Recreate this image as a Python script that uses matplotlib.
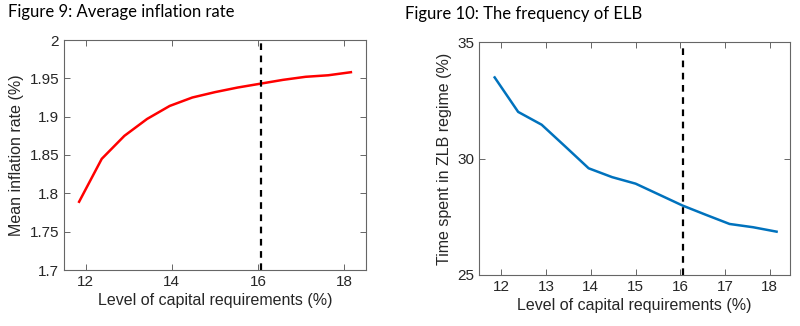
import matplotlib
matplotlib.use("Agg")
import matplotlib.pyplot as plt

capital = [11.85, 12.375, 12.9, 13.425, 13.95, 14.475, 15.0, 15.525, 16.05, 16.575, 17.1, 17.625, 18.15]
inflation = [1.789, 1.845, 1.875, 1.897, 1.914, 1.925, 1.932, 1.938, 1.943, 1.948, 1.952, 1.954, 1.958]
zlb_time = [33.48, 32.0, 31.45, 30.52, 29.58, 29.2, 28.92, 28.45, 27.98, 27.58, 27.19, 27.05, 26.86]
current_req = 16.07

left_xticks = [12, 14, 16, 18]
left_yticks = [1.7, 1.75, 1.8, 1.85, 1.9, 1.95, 2.0]
left_yticklabels = ["1.7", "1.75", "1.8", "1.85", "1.9", "1.95", "2"]
right_xticks = [12, 13, 14, 15, 16, 17, 18]
right_yticks = [25, 30, 35]

W, H = 800, 326
fig = plt.figure(figsize=(W / 100, H / 100), dpi=100)

def ax_rect(x0, y0, x1, y1):
    return [x0 / W, 1 - y1 / H, (x1 - x0) / W, (y1 - y0) / H]

ax1 = fig.add_axes(ax_rect(64, 40, 366, 270))
ax2 = fig.add_axes(ax_rect(479, 42, 790, 275))

tick_col = "#262626"
font = "Liberation Sans"

for ax in (ax1, ax2):
    for s in ax.spines.values():
        s.set_color("#666666")
        s.set_linewidth(0.8)
    ax.tick_params(direction="in", top=True, right=True, length=4, width=0.7,
                   color="#666666", labelcolor=tick_col, labelsize=11)

ax1.plot(capital, inflation, color="#ff0000", lw=1.8)
ax1.axvline(current_req, color="black", lw=1.6, ls=(0, (3, 2.5)))
ax1.set_xlim(11.5, 18.5)
ax1.set_ylim(1.7, 2.0)
ax1.set_xticks(left_xticks)
ax1.set_yticks(left_yticks)
ax1.set_yticklabels(left_yticklabels)
ax1.set_xlabel("Level of capital requirements (%)", fontsize=11.5, family=font, color=tick_col, labelpad=3)
ax1.set_ylabel("Mean inflation rate (%)", fontsize=11.5, family=font, color=tick_col, labelpad=4)

ax2.plot(capital, zlb_time, color="#0072BD", lw=1.8)
ax2.axvline(current_req, color="black", lw=1.6, ls=(0, (3, 2.5)))
ax2.set_xlim(11.5, 18.45)
ax2.set_ylim(25, 35)
ax2.set_xticks(right_xticks)
ax2.set_yticks(right_yticks)
ax2.set_xlabel("Level of capital requirements (%)", fontsize=11.5, family=font, color=tick_col, labelpad=3)
ax2.set_ylabel("Time spent in ZLB regime (%)", fontsize=11.5, family=font, color=tick_col, labelpad=4)

for ax in (ax1, ax2):
    for lab in ax.get_xticklabels() + ax.get_yticklabels():
        lab.set_family(font)

fig.text(8 / W, 1 - 12 / H, "Figure 9: Average inflation rate", fontsize=12, family="Lato",
         va="center", ha="left", color="black")
fig.text(405 / W, 1 - 14 / H, "Figure 10: The frequency of ELB", fontsize=12, family="Lato",
         va="center", ha="left", color="black")

fig.savefig("out.png", dpi=100)
